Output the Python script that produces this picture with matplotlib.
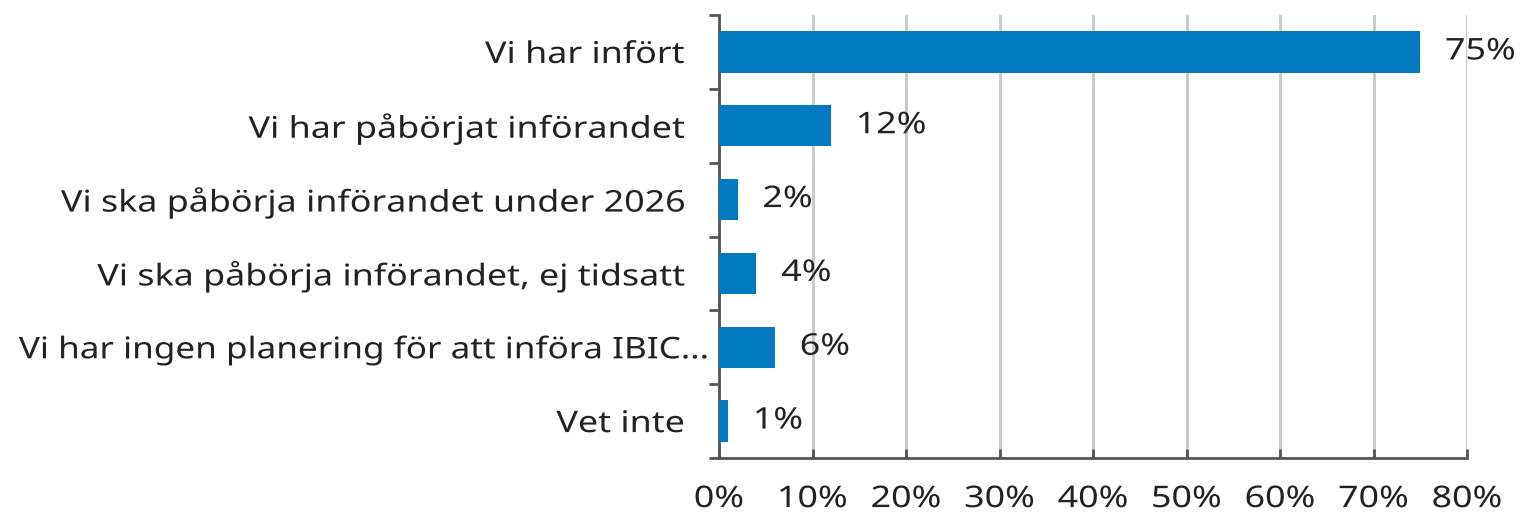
import matplotlib.pyplot as plt
from matplotlib.ticker import FixedLocator
from matplotlib.patheffects import AbstractPathEffect
from matplotlib.transforms import Affine2D, ScaledTranslation

plt.rcParams['font.family'] = ['Noto Sans', 'DejaVu Sans']

categories = [
    "Vi har infört",
    "Vi har påbörjat införandet",
    "Vi ska påbörja införandet under 2026",
    "Vi ska påbörja införandet, ej tidsatt",
    "Vi har ingen planering för att införa IBIC...",
    "Vet inte",
]
values = [75, 12, 2, 4, 6, 1]
xticks = [0, 10, 20, 30, 40, 50, 60, 70, 80]

bar_color = "#027ac0"
axis_color = "#555555"
grid_color = "#c8c8c8"
text_color = "#222222"
fsize = 21.5
stretch = 1.2


class StretchX(AbstractPathEffect):
    # the reference font is drawn a bit wider than Noto Sans, widen the glyphs
    def __init__(self, sx, anchor):
        super().__init__()
        self.sx = sx
        self.anchor = anchor

    def draw_path(self, renderer, gc, tpath, affine, rgbFace=None):
        ext = tpath.get_extents()
        x0 = ext.x0 + self.anchor * ext.width
        t = Affine2D().translate(-x0, 0).scale(self.sx, 1).translate(x0, 0)
        renderer.draw_path(gc, tpath, t + affine, rgbFace)


fig = plt.figure(figsize=(15.22, 5.12), dpi=100)
ax = fig.add_axes([719 / 1522, 1 - 458 / 512, 748 / 1522, 443 / 512])

y = list(range(len(categories)))
ax.barh(y, values, height=0.56, color=bar_color, zorder=3)

for yi, v in zip(y, values):
    ax.annotate(f"{v}%", (v, yi), xytext=(18, 0), textcoords="offset points",
                va="center", ha="left", fontsize=fsize, color=text_color,
                path_effects=[StretchX(stretch, 0)])

ax.set_xlim(0, 80)
ax.set_ylim(len(categories) - 0.5, -0.5)

ax.set_xticks(xticks)
ax.set_xticklabels([f"{t}%" for t in xticks], fontsize=fsize, color=text_color)
ax.tick_params(axis="x", direction="in", length=6.5, width=2, color=axis_color, pad=19.5)
ax.xaxis.grid(True, color=grid_color, linewidth=2, zorder=0)
for lab in ax.get_xticklabels():
    lab.set_path_effects([StretchX(stretch, 0.5)])

ax.set_yticks(y)
ax.set_yticklabels(categories, fontsize=fsize, color=text_color)
ax.tick_params(axis="y", which="major", length=0, pad=25)
ax.yaxis.set_minor_locator(FixedLocator([i - 0.5 for i in range(len(categories) + 1)]))
ax.tick_params(axis="y", which="minor", direction="out", length=7, width=2, color=axis_color)
for lab in ax.get_yticklabels():
    if lab.get_text().endswith("..."):
        # the truncated label sits closer to the axis
        lab.set_path_effects([StretchX(1.175, 1)])
        lab.set_transform(lab.get_transform() + ScaledTranslation(0.24, 0, fig.dpi_scale_trans))
    else:
        lab.set_path_effects([StretchX(stretch, 1)])

for side in ("top", "right"):
    ax.spines[side].set_visible(False)
for side in ("left", "bottom"):
    ax.spines[side].set_color(axis_color)
    ax.spines[side].set_linewidth(2)

fig.savefig("out.png", dpi=100, facecolor="white")
